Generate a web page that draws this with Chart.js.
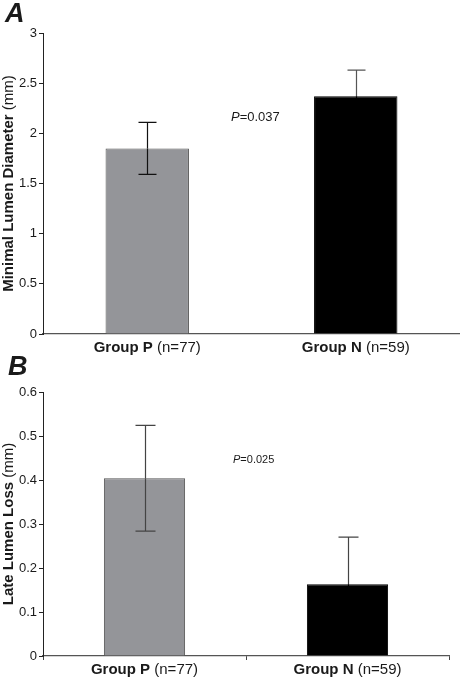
<!DOCTYPE html>
<html>
<head>
<meta charset="utf-8">
<script src="https://cdn.jsdelivr.net/npm/chart.js@4"></script>
<style>
  body { margin: 0; background: #fff; }
  #wrap { position: relative; width: 460px; height: 678px; }
  canvas { position: absolute; left: 0; }
</style>
</head>
<body>
<div id="wrap">
  <canvas id="chartA" width="460" height="362" style="top:0"></canvas>
  <canvas id="chartB" width="460" height="328" style="top:350px"></canvas>
</div>
<script>
// data
const groups = ['Group P', 'Group N'];
const groupSizes = ['(n=77)', '(n=59)'];
const mldMean = [1.85, 2.37];      // minimal lumen diameter, mm
const mldErr = [0.26, 0.26];
const lllMean = [0.404, 0.163];    // late lumen loss, mm
const lllErr = [0.12, 0.107];
const pValues = ['0.037', '0.025'];

const FONT = 'Arial, "Liberation Sans", sans-serif';
const barColors = ['#949599', '#000000'];
const barBorders = ['#555555', '#000000'];

// error bars + all the mixed-weight text
const extras = {
  id: 'extras',
  afterDatasetsDraw(chart, args, o) {
    const ctx = chart.ctx;
    const x = chart.scales.x, y = chart.scales.y;
    const meta = chart.getDatasetMeta(0);
    ctx.save();
    ctx.lineWidth = 1.2;
    o.mean.forEach((m, i) => {
      const cx = Math.round(meta.data[i].x) + 0.5;
      const yTop = y.getPixelForValue(m + o.err[i]);
      const yMid = y.getPixelForValue(m);
      const yLow = y.getPixelForValue(m - o.err[i]);
      ctx.strokeStyle = o.errColor[i];
      ctx.beginPath();
      ctx.moveTo(cx, yTop); ctx.lineTo(cx, yMid);
      ctx.moveTo(cx - o.cap, yTop); ctx.lineTo(cx + o.cap, yTop);
      ctx.stroke();
      ctx.strokeStyle = o.lowColor[i];
      ctx.beginPath();
      ctx.moveTo(cx, yMid); ctx.lineTo(cx, yLow);
      ctx.moveTo(cx - o.cap, yLow); ctx.lineTo(cx + o.cap, yLow);
      ctx.stroke();
    });

    ctx.fillStyle = '#1a1a1a';
    ctx.textBaseline = 'middle';
    // category labels: bold group name + normal n
    groups.forEach((g, i) => {
      const cx = x.getPixelForValue(i);
      ctx.font = 'bold 15px ' + FONT;
      const a = g + ' ';
      const wa = ctx.measureText(a).width;
      ctx.font = '15px ' + FONT;
      const wb = ctx.measureText(groupSizes[i]).width;
      const sx = cx - (wa + wb) / 2;
      ctx.textAlign = 'left';
      ctx.font = 'bold 15px ' + FONT;
      ctx.fillText(a, sx, o.labelY);
      ctx.font = '15px ' + FONT;
      ctx.fillText(groupSizes[i], sx + wa, o.labelY);
    });

    // y title, rotated
    const cy = (chart.chartArea.top + chart.chartArea.bottom) / 2;
    ctx.save();
    ctx.translate(o.titleX, cy);
    ctx.rotate(-Math.PI / 2);
    ctx.font = 'bold 15px ' + FONT;
    const ta = o.title + ' ';
    const wta = ctx.measureText(ta).width;
    ctx.font = '15px ' + FONT;
    const wtb = ctx.measureText('(mm)').width;
    ctx.textAlign = 'left';
    ctx.font = 'bold 15px ' + FONT;
    ctx.fillText(ta, -(wta + wtb) / 2, 0);
    ctx.font = '15px ' + FONT;
    ctx.fillText('(mm)', -(wta + wtb) / 2 + wta, 0);
    ctx.restore();

    // P value
    ctx.font = 'italic ' + o.pSize + 'px ' + FONT;
    ctx.fillText('P', o.pX, o.pY);
    const wp = ctx.measureText('P').width;
    ctx.font = o.pSize + 'px ' + FONT;
    ctx.fillText('=' + o.p, o.pX + wp, o.pY);

    // panel letter
    ctx.font = 'italic bold 27px ' + FONT;
    ctx.textBaseline = 'alphabetic';
    ctx.fillText(o.letter, o.letterX, o.letterY);
    ctx.restore();
  }
};

function makeChart(id, opts) {
  return new Chart(document.getElementById(id), {
    type: 'bar',
    data: {
      labels: groups,
      datasets: [{
        data: opts.mean,
        backgroundColor: barColors,
        borderColor: barBorders,
        borderWidth: 1,
        borderSkipped: 'bottom',
        barPercentage: 0.4,
        categoryPercentage: 1
      }]
    },
    options: {
      responsive: false,
      animation: false,
      layout: { padding: { top: opts.padTop, right: opts.padRight, left: 0, bottom: 0 } },
      plugins: {
        legend: { display: false },
        tooltip: { enabled: false },
        extras: opts.extras
      },
      scales: {
        x: {
          ticks: { display: false },
          grid: { display: opts.xTicks, drawOnChartArea: false, tickLength: 4, color: '#444' },
          border: { display: true, color: '#555', width: 1.2 },
          afterFit(s) { s.height = opts.xHeight; }
        },
        y: {
          min: 0,
          max: opts.max,
          ticks: {
            stepSize: opts.step,
            color: '#1a1a1a',
            font: { family: FONT, size: 13 },
            padding: 2,
            callback: v => String(+v.toFixed(2))
          },
          grid: { drawOnChartArea: false, tickLength: 4, color: '#222' },
          border: { display: true, color: '#222', width: 1 },
          afterFit(s) { s.width = 43; }
        }
      }
    },
    plugins: [extras]
  });
}

makeChart('chartA', {
  mean: mldMean, max: 3, step: 0.5, padTop: 33, padRight: 0, xHeight: 28, xTicks: false,
  extras: {
    mean: mldMean, err: mldErr, cap: 9,
    errColor: ['#111', '#555'], lowColor: ['#111', '#000'],
    labelY: 348, titleX: 9, title: 'Minimal Lumen Diameter',
    p: pValues[0], pX: 231, pY: 117, pSize: 13,
    letter: 'A', letterX: 5, letterY: 22
  }
});

makeChart('chartB', {
  mean: lllMean, max: 0.6, step: 0.1, padTop: 42, padRight: 11, xHeight: 22, xTicks: true,
  extras: {
    mean: lllMean, err: lllErr, cap: 10,
    errColor: ['#444', '#444'], lowColor: ['#444', '#000'],
    labelY: 320, titleX: 9, title: 'Late Lumen Loss',
    p: pValues[1], pX: 233, pY: 110, pSize: 11,
    letter: 'B', letterX: 8, letterY: 25
  }
});
</script>
</body>
</html>
